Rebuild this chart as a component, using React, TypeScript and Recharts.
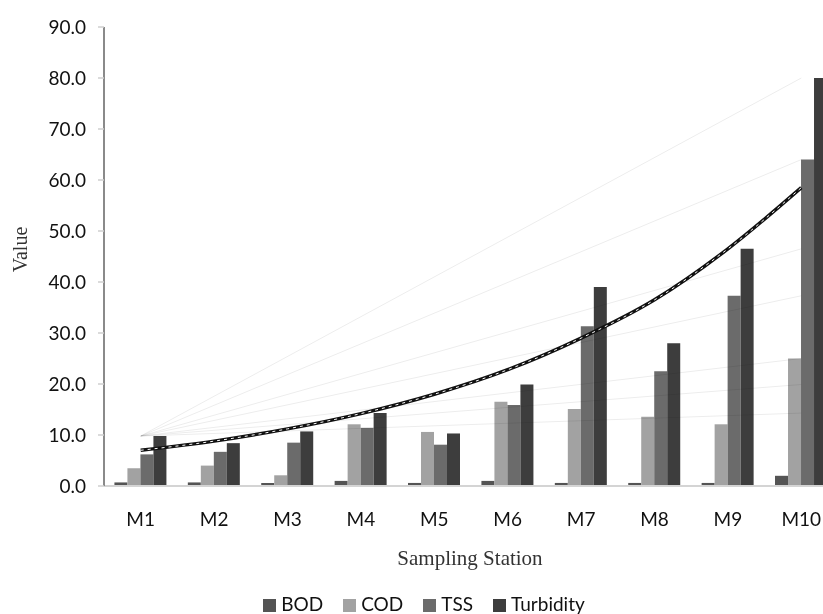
import React from 'react';
import { ComposedChart, Bar, Line, XAxis, YAxis, Legend } from 'recharts';

const categories = ['M1', 'M2', 'M3', 'M4', 'M5', 'M6', 'M7', 'M8', 'M9', 'M10'];
const bod = [0.7, 0.7, 0.6, 1.0, 0.6, 1.0, 0.6, 0.6, 0.6, 2.0];
const cod = [3.5, 4.0, 2.1, 12.1, 10.6, 16.5, 15.1, 13.6, 12.1, 25.0];
const tss = [6.2, 6.7, 8.5, 11.4, 8.1, 15.9, 31.3, 22.5, 37.3, 64.0];
const turbidity = [9.8, 8.4, 10.7, 14.3, 10.3, 19.9, 39.0, 28.0, 46.5, 80.0];
const trend = [7.0, 8.8, 11.2, 14.2, 18.0, 22.8, 29.0, 36.5, 46.5, 58.5];
// faint connector lines from M1 to M10
const fanStart = 9.8;
const fanEnds = [80.0, 64.0, 46.5, 37.3, 25.0, 19.9, 14.3];
const yTicks = [0, 10, 20, 30, 40, 50, 60, 70, 80, 90];
const boundaryTicks = [1, 2, 3, 4, 5, 6, 7, 8, 9];

const data = categories.map((c, i) => {
  const row: any = {
    name: c,
    idx: i + 0.5,
    BOD: bod[i],
    COD: cod[i],
    TSS: tss[i],
    Turbidity: turbidity[i],
    trend: trend[i],
  };
  fanEnds.forEach((e, k) => {
    row['fan' + k] = i === 0 ? fanStart : i === categories.length - 1 ? e : null;
  });
  return row;
});

const colors = { BOD: '#545454', COD: '#a2a2a2', TSS: '#6b6b6b', Turbidity: '#3d3d3d' };
const sans = 'Lato, "Open Sans", sans-serif';
const serif = '"Liberation Serif", "DejaVu Serif", serif';

const LegendContent = () => (
  <div style={{ position: 'relative', width: 832, height: 88 }}>
    <div
      style={{
        position: 'absolute',
        left: 462,
        top: 20,
        transform: 'translateX(-50%)',
        whiteSpace: 'nowrap',
        fontFamily: serif,
        fontSize: 21,
        color: '#333',
        lineHeight: '24px',
      }}
    >
      Sampling Station
    </div>
    <div
      style={{
        position: 'absolute',
        left: 0,
        width: 832,
        top: 67,
        fontFamily: sans,
        fontSize: 19,
        lineHeight: '22px',
        color: '#111',
        display: 'flex',
        justifyContent: 'center',
        gap: 20,
      }}
    >
      {(['BOD', 'COD', 'TSS', 'Turbidity'] as const).map((k) => (
        <span key={k} style={{ display: 'inline-flex', alignItems: 'center' }}>
          <span style={{ display: 'inline-block', width: 13, height: 13, background: colors[k], marginRight: 5, marginTop: 2 }} />
          {k}
        </span>
      ))}
    </div>
  </div>
);

export default function App() {
  return (
    <div style={{ position: 'fixed', left: 0, top: 0, width: 823, height: 614, overflow: 'hidden', background: '#fff' }}>
      <style>{'.fan path { mix-blend-mode: multiply; }'}</style>
      <div style={{ position: 'absolute', left: 8, top: 8 }}>
        <ComposedChart
          width={850}
          height={606}
          data={data}
          margin={{ top: 19, right: 20, bottom: 0, left: 0 }}
          barCategoryGap="14.2%"
          barGap={0}
        >
          <XAxis
            xAxisId="b"
            type="number"
            dataKey="idx"
            domain={[0, 10]}
            ticks={boundaryTicks}
            tick={false}
            axisLine={{ stroke: '#d4d4d4', strokeWidth: 2 }}
            tickLine={{ stroke: '#777', strokeWidth: 1.5 }}
            tickSize={8}
            height={8}
            allowDataOverflow
          />
          <XAxis
            xAxisId="c"
            dataKey="name"
            axisLine={false}
            tickLine={false}
            tick={{ fontFamily: sans, fontSize: 19, fill: '#111' }}
            tickMargin={13}
            height={32}
            interval={0}
          />
          <YAxis
            domain={[0, 90]}
            ticks={yTicks}
            width={96}
            tickFormatter={(v: number) => v.toFixed(1)}
            tick={{ fontFamily: sans, fontSize: 19, fill: '#111' }}
            axisLine={{ stroke: '#8a8a8a', strokeWidth: 2 }}
            tickLine={{ stroke: '#cfcfcf', strokeWidth: 1.5 }}
            tickSize={6}
            tickMargin={12}
            label={{
              value: 'Value',
              angle: -90,
              position: 'insideLeft',
              offset: 12,
              dy: -7,
              style: { fontFamily: serif, fontSize: 20, fill: '#333', textAnchor: 'middle' },
            }}
          />
          {fanEnds.map((_, k) => (
            <Line
              key={k}
              className="fan"
              xAxisId="c"
              dataKey={'fan' + k}
              stroke="#ededed"
              strokeWidth={1}
              dot={false}
              activeDot={false}
              connectNulls
              isAnimationActive={false}
              legendType="none"
            />
          ))}
          <Bar xAxisId="c" dataKey="BOD" fill={colors.BOD} isAnimationActive={false} />
          <Bar xAxisId="c" dataKey="COD" fill={colors.COD} isAnimationActive={false} />
          <Bar xAxisId="c" dataKey="TSS" fill={colors.TSS} isAnimationActive={false} />
          <Bar xAxisId="c" dataKey="Turbidity" fill={colors.Turbidity} isAnimationActive={false} />
          <Line xAxisId="c" type="monotone" dataKey="trend" stroke="#111" strokeWidth={3.5} dot={false} isAnimationActive={false} legendType="none" />
          <Line xAxisId="c" type="monotone" dataKey="trend" stroke="#fff" strokeWidth={1} strokeDasharray="3 4" dot={false} isAnimationActive={false} legendType="none" />
          <Legend verticalAlign="bottom" height={88} content={<LegendContent />} wrapperStyle={{ left: 0, width: 832 }} />
        </ComposedChart>
      </div>
    </div>
  );
}
